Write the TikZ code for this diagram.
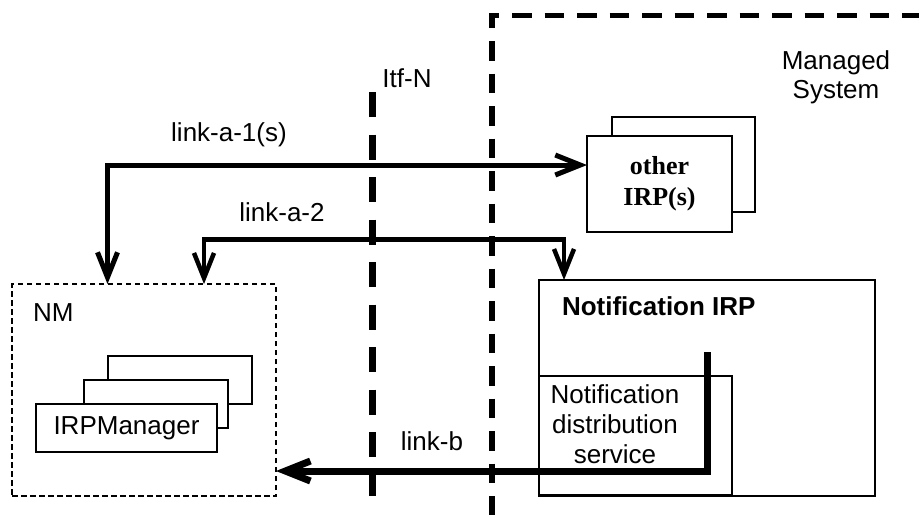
\documentclass[tikz,border=0pt]{standalone}
\usepackage{fontspec}
\setmainfont{Liberation Sans}
\newfontfamily\serifbold{Liberation Serif}[BoldFont={* Bold}]
\usetikzlibrary{arrows.meta}
\begin{document}
\begin{tikzpicture}[x=1pt,y=-1pt,
  every node/.style={font=\fontsize{26}{30}\selectfont},
  thinbox/.style={draw,line width=1.5pt,fill=white,inner sep=0pt,outer sep=0pt,anchor=north west},
  txt/.style={inner sep=0pt,outer sep=0pt},
  msline/.style={line width=5.5pt,dash pattern=on 19.5pt off 13pt},
  itfline/.style={line width=7pt,dash pattern=on 25pt off 17.5pt},
  link/.style={line width=5pt,>={Straight Barb[length=25pt,width=20pt]}}]
\useasboundingbox (0,0) rectangle (919,515);

% Managed System boundary
\coordinate (msS) at (492,28);
\coordinate (msC) at (492,15.7);
\coordinate (msR) at (919,15.7);
\coordinate (msB) at (492,515);
\draw[msline] (msS) -- (msC) -- (msR);
\draw[msline,dash phase=19.5pt] (msS) -- (msB);
\node[txt,anchor=north,align=center,font=\fontsize{26}{28.5}\selectfont] (msl) at (836,51) {Managed\\System};

% Itf-N
\coordinate (itfT) at (372,92);
\coordinate (itfB) at (372,496);
\draw[itfline] (itfT) -- (itfB);
\node[txt,anchor=base] (itfl) at (407,87) {Itf-N};

% NM
\node[thinbox,fill=none,line width=2pt,dash pattern=on 5.5pt off 3.5pt,minimum width=264,minimum height=212] (nm) at (12,284) {};
\node[txt,anchor=base west] (nml) at (33,321) {NM};
\node[thinbox,minimum width=144,minimum height=48] (irpm3) at (108,356) {};
\node[thinbox,minimum width=144,minimum height=48] (irpm2) at (84,380) {};
\node[thinbox,minimum width=181,minimum height=48] (irpm1) at (36,404) {IRPManager};

% other IRP(s)
\node[thinbox,minimum width=143,minimum height=95] (oirp2) at (612,117) {};
\node[thinbox,minimum width=145,minimum height=96,align=center,font=\serifbold\bfseries\fontsize{26}{31}\selectfont] (oirp1) at (587,136) {other\\IRP(s)};

% Notification IRP
\node[thinbox,minimum width=336,minimum height=216] (nirp) at (539,280) {};
\node[txt,anchor=base west,font=\bfseries\fontsize{26}{30}\selectfont] (nirpl) at (562,315) {Notification IRP};
\node[thinbox,fill=none,minimum width=193,minimum height=119] (nds) at (539,376) {};
\node[txt,anchor=north,align=center] (ndsl) at (615,384.3) {Notification\\distribution\\service};

% link-a-1(s)
\coordinate (a1) at (107.5,165);
\draw[link,<->] (a1 |- nm.north) -- (a1) -- (a1 -| oirp1.west);
\node[txt,anchor=base] (a1l) at (229,141) {link-a-1(s)};

% link-a-2
\coordinate (a2L) at (204,239.5);
\coordinate (a2R) at (564,239.5);
\draw[link,line width=4.5pt,<->] (a2L |- nm.north) -- (a2L) -- (a2R) -- (a2R |- nirp.north);
\node[txt,anchor=base] (a2l) at (282,221) {link-a-2};

% link-b
\coordinate (bS) at (707,352);
\coordinate (bC) at (707,471);
\draw[link,line width=7pt,->] (bS) -- (bC) -- (bC -| nm.east);
\node[txt,anchor=base] (bl) at (432,450) {link-b};
\end{tikzpicture}
\end{document}
